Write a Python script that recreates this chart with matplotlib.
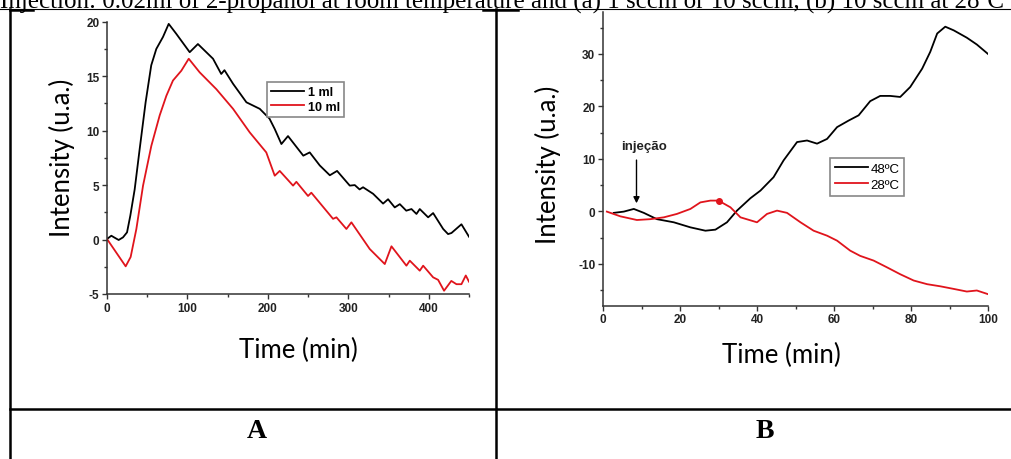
import matplotlib
matplotlib.use("Agg")
import matplotlib.pyplot as plt
from matplotlib.lines import Line2D
from matplotlib.ticker import MultipleLocator
from matplotlib.font_manager import FontProperties

plt.rcParams['axes.unicode_minus'] = False

# ---------------- data ----------------
# Panel A
a_1ml_t = [0, 5.4, 9.5, 14.5, 19.9, 24.9, 29, 34.4, 40.6, 48, 55, 61.3, 69.6, 76.7, 86, 102.8, 113,
           131.8, 142, 146, 156.7, 173.3, 181.6, 189.9, 202, 208.5, 216.8, 225, 244, 252, 264.5, 277,
           286, 301.8, 308, 314, 318.3, 330.8, 343.2, 349.4, 357.7, 364, 372, 378.5, 384.7, 388.8,
           399.2, 405.4, 417.9, 424, 428.2, 440.6, 450]
a_1ml_v = [0.05, 0.35, 0.17, -0.04, 0.2, 0.66, 2.2, 4.6, 8.3, 12.6, 16.0, 17.5, 18.6, 19.8, 18.9, 17.2, 17.95,
           16.6, 15.2, 15.55, 14.3, 12.6, 12.3, 12.0, 11.1, 10.15, 8.77, 9.5, 7.7, 8.0, 6.8, 5.9,
           6.3, 4.95, 5.0, 4.6, 4.8, 4.2, 3.3, 3.7, 2.95, 3.25, 2.65, 2.8, 2.35, 2.8,
           2.04, 2.43, 0.97, 0.5, 0.6, 1.4, 0.26]
a_10ml_t = [0, 23.2, 29.4, 36.5, 44.8, 55.1, 65.5, 73.8, 82, 92.4, 101.6, 115.2, 136, 156.7, 177.4, 198,
            208.5, 214.7, 231.3, 235.4, 249.9, 254, 281, 285.2, 297.6, 303.8, 326.6, 345.3, 353.6,
            372.2, 376.4, 388.8, 393, 405.4, 411.6, 419, 428, 434.4, 440.6, 446, 450]
a_10ml_v = [0.05, -2.46, -1.6, 0.97, 4.95, 8.6, 11.4, 13.2, 14.6, 15.5, 16.6, 15.35, 13.8, 12.0, 9.84, 8.0,
            5.86, 6.3, 4.95, 5.3, 4.0, 4.3, 1.9, 2.04, 0.97, 1.58, -0.87, -2.25, -0.62,
            -2.4, -1.94, -2.86, -2.4, -3.47, -3.7, -4.7, -3.8, -4.1, -4.1, -3.3, -3.87]
a_labels = ["1 ml", "10 ml"]

# Panel B
b_48_t = [2.8, 5.4, 8, 10.6, 14, 18.4, 22.7, 26.6, 29.2, 32.2, 34.8, 38.3, 40.9, 44.3, 46.9, 50.4, 53,
          55.6, 58.2, 60.8, 63.8, 66.4, 69.4, 72, 74.6, 77.2, 79.8, 82.9, 85, 86.8, 88.9, 91.1, 94.5,
          97.1, 100]
b_48_v = [-0.3, -0.06, 0.45, -0.3, -1.5, -2.1, -3.06, -3.7, -3.5, -2.1, 0.13, 2.5, 3.95, 6.5, 9.7, 13.2, 13.5,
          12.9, 13.8, 16.05, 17.3, 18.3, 21.0, 22.0, 22.0, 21.8, 23.7, 27.2, 30.4, 33.9, 35.2, 34.5, 33.1,
          31.8, 30.0]
b_28_t = [1.0, 4.5, 8.8, 12.3, 15.8, 19.2, 22.7, 25.3, 27.9, 30, 33.1, 35.7, 40, 42.6, 45.2, 47.8, 51.3,
          54.7, 58.2, 60.8, 64.2, 66.8, 70.3, 73.8, 77.2, 80.7, 84.2, 87.6, 91.1, 94.5, 97.1, 100]
b_28_v = [-0.06, -0.96, -1.66, -1.5, -1.15, -0.5, 0.45, 1.7, 2.04, 2.04, 0.76, -1.15, -2.1, -0.5, 0.13, -0.3, -2.1,
          -3.7, -4.65, -5.6, -7.5, -8.5, -9.4, -10.7, -12.0, -13.2, -13.9, -14.3, -14.8, -15.3, -15.1, -15.8]
b_labels = ["48ºC", "28ºC"]
b_marker_t = [30]
b_marker_v = [2.0]
b_annot = "injeção"
b_annot_x = 8.7

caption = "Injection: 0.02ml of 2-propanol at room temperature and (a) 1 sccm or 10 sccm, (b) 10 sccm at 28ºC and 48ºC"
panel_letters = ["A", "B"]

# ---------------- figure ----------------
W, H = 1011, 460
fig = plt.figure(figsize=(W / 100, H / 100), dpi=100)

def fx(px):
    return px / W

def fy(py):
    return 1 - py / H

# caption (its top is cut off in the screenshot)
fig.text(fx(0), fy(8.5), caption, fontsize=18, family="Liberation Serif",
         ha="left", va="baseline", color="black")

# table lines
lw_t = 1.8
fig.add_artist(Line2D([fx(0), fx(W)], [fy(9.5), fy(9.5)], color="black", lw=0.8))
fig.add_artist(Line2D([fx(10), fx(33)], [fy(10.5), fy(10.5)], color="black", lw=lw_t))
fig.add_artist(Line2D([fx(483), fx(518)], [fy(10.5), fy(10.5)], color="black", lw=lw_t))
fig.add_artist(Line2D([fx(10), fx(10)], [fy(10), fy(H)], color="black", lw=lw_t))
fig.add_artist(Line2D([fx(496), fx(496)], [fy(10), fy(H)], color="black", lw=lw_t))
fig.add_artist(Line2D([fx(10), fx(W)], [fy(409.5), fy(409.5)], color="black", lw=lw_t))

fig.text(fx(257), fy(432), panel_letters[0], fontsize=20, family="Liberation Serif",
         weight="bold", ha="center", va="center")
fig.text(fx(765), fy(432), panel_letters[1], fontsize=20, family="Liberation Serif",
         weight="bold", ha="center", va="center")

spine_col = "#333333"
tick_font = dict(family="Liberation Sans", weight="bold", size=8.5)

def style_axes(ax):
    for s in ["top", "right"]:
        ax.spines[s].set_visible(False)
    for s in ["left", "bottom"]:
        ax.spines[s].set_color(spine_col)
        ax.spines[s].set_linewidth(1.1)
    ax.tick_params(which="major", direction="out", length=3.5, width=1, color=spine_col, pad=2)
    ax.tick_params(which="minor", direction="out", length=2, width=1, color=spine_col)
    for lab in ax.get_xticklabels() + ax.get_yticklabels():
        lab.set_fontproperties(FontProperties(**tick_font))
        lab.set_color("#222222")

label_font = dict(fontsize=18.5, family="Lato")

# ---------- Panel A ----------
axA = fig.add_axes([fx(107), fy(295), fx(469 - 107), (295 - 22.7) / H])
axA.plot(a_1ml_t, a_1ml_v, color="black", lw=1.3, label=a_labels[0])
axA.plot(a_10ml_t, a_10ml_v, color="#e0141c", lw=1.3, label=a_labels[1])
axA.set_xlim(0, 450)
axA.set_ylim(-5, 20)
axA.xaxis.set_major_locator(MultipleLocator(100))
axA.xaxis.set_minor_locator(MultipleLocator(50))
axA.yaxis.set_major_locator(MultipleLocator(5))
axA.yaxis.set_minor_locator(MultipleLocator(2.5))
style_axes(axA)
legA = axA.legend(loc="upper left", bbox_to_anchor=(fx(267), fy(82.7)), bbox_transform=fig.transFigure,
                  frameon=True, fancybox=False, edgecolor="#888888", framealpha=1,
                  prop=dict(family="Liberation Sans", weight="bold", size=9),
                  handlelength=2.6, handletextpad=0.3, borderpad=0.35, labelspacing=0.2,
                  borderaxespad=0)
legA.get_frame().set_linewidth(1.2)

fig.text(fx(62), fy(158), "Intensity (u.a.)", rotation=90, ha="center", va="center", **label_font)
fig.text(fx(298), fy(350), "Time (min)", ha="center", va="center", **label_font)

# ---------- Panel B ----------
axB = fig.add_axes([fx(603), fy(306.7), fx(988 - 603), (306.7 - 13) / H])
axB.plot(b_48_t, b_48_v, color="black", lw=1.3, label=b_labels[0])
axB.plot(b_28_t, b_28_v, color="#e0141c", lw=1.3, label=b_labels[1])
axB.plot(b_marker_t, b_marker_v, "o", color="#e0141c", ms=4)
axB.set_xlim(0, 100)
axB.set_ylim(-18, 38)
axB.xaxis.set_major_locator(MultipleLocator(20))
axB.xaxis.set_minor_locator(MultipleLocator(10))
axB.yaxis.set_major_locator(MultipleLocator(10))
axB.yaxis.set_minor_locator(MultipleLocator(5))
axB.set_yticks([-10, 0, 10, 20, 30])
style_axes(axB)
legB = axB.legend(loc="upper left", bbox_to_anchor=(fx(830), fy(159)), bbox_transform=fig.transFigure,
                  frameon=True, fancybox=False, edgecolor="#888888", framealpha=1,
                  prop=dict(family="Liberation Sans", size=9.5),
                  handlelength=2.5, handletextpad=0.2, borderpad=0.35, labelspacing=0.3,
                  borderaxespad=0)
legB.get_frame().set_linewidth(1.2)

axB.annotate(b_annot, xy=(10.6, 12.4), ha="center", va="center",
             fontsize=9.5, family="Liberation Sans", weight="bold", color="#222222")
axB.annotate("", xy=(b_annot_x, 1.0), xytext=(b_annot_x, 10.3),
             arrowprops=dict(arrowstyle="-|>", color="black", lw=1, mutation_scale=9))

fig.text(fx(548), fy(165), "Intensity (u.a.)", rotation=90, ha="center", va="center", **label_font)
fig.text(fx(781), fy(355), "Time (min)", ha="center", va="center", **label_font)

fig.savefig("out.png", dpi=100)
